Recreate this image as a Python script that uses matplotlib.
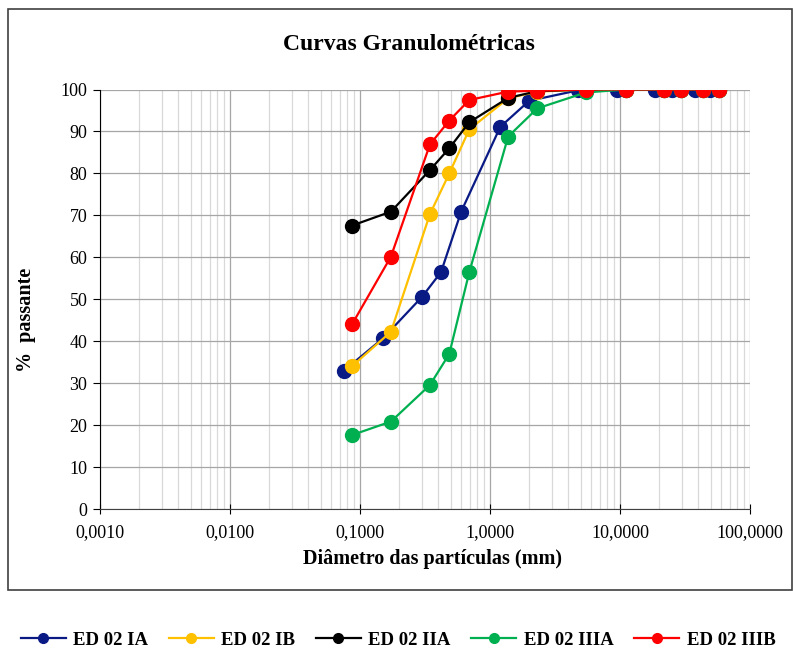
import matplotlib
matplotlib.use('Agg')
import matplotlib.pyplot as plt
from matplotlib.patches import Rectangle
from matplotlib.ticker import FixedLocator, FuncFormatter, NullFormatter
import numpy as np

plt.rcParams['font.family'] = 'Liberation Serif'

# sieve openings (mm)
d_ia = [0.075, 0.15, 0.30, 0.42, 0.60, 1.20, 2.00, 4.75, 9.5, 18.6, 25.1, 37.8, 49.3]
d_other = [0.087, 0.173, 0.345, 0.486, 0.693, 1.38, 2.31, 5.47, 11.1, 21.8, 29.3, 43.7, 58.1]

ed_02_ia = [33.0, 40.7, 50.6, 56.5, 70.9, 91.1, 97.3, 99.8, 100, 100, 100, 100, 100]
ed_02_ib = [34.1, 42.3, 70.3, 80.0, 90.5, 97.9, 99.5, 100, 100, 100, 100, 100, 100]
ed_02_iia = [67.6, 70.9, 80.8, 86.0, 92.2, 98.0, 99.6, 100, 100, 100, 100, 100, 100]
ed_02_iiia = [17.7, 20.9, 29.6, 37.0, 56.5, 88.8, 95.5, 99.3, 100, 100, 100, 100, 100]
ed_02_iiib = [44.1, 60.2, 86.9, 92.6, 97.5, 99.5, 99.7, 100, 100, 100, 100, 100, 100]

series = [
    ('ED 02 IA', d_ia, ed_02_ia, '#0a1a85'),
    ('ED 02 IB', d_other, ed_02_ib, '#ffc000'),
    ('ED 02 IIA', d_other, ed_02_iia, '#000000'),
    ('ED 02 IIIA', d_other, ed_02_iiia, '#00b050'),
    ('ED 02 IIIB', d_other, ed_02_iiib, '#ff0000'),
]

fig = plt.figure(figsize=(7.93, 6.49), dpi=100)
ax = fig.add_axes([100 / 793, 1 - 509.3 / 649, 650 / 793, 419.8 / 649])

# outer frame of the chart area
fig.patches.append(Rectangle((8 / 793, 1 - 590 / 649), 784 / 793, 581 / 649,
                             transform=fig.transFigure, fill=False,
                             edgecolor='#404040', linewidth=1.2))

for name, d, p, c in series:
    ax.plot(d, p, '-o', color=c, label=name, linewidth=1.6, markersize=10,
            markeredgecolor=c, zorder=3)

ax.set_xscale('log')
ax.set_xlim(0.001, 100)
ax.set_ylim(0, 100)

ax.xaxis.set_major_locator(FixedLocator([0.001, 0.01, 0.1, 1, 10, 100]))
ax.xaxis.set_major_formatter(FuncFormatter(lambda v, pos: ('%.4f' % v).replace('.', ',')))
minors = [k * 10.0 ** e for e in range(-3, 2) for k in range(2, 10)]
ax.xaxis.set_minor_locator(FixedLocator(minors))
ax.xaxis.set_minor_formatter(NullFormatter())
ax.set_yticks(np.arange(0, 101, 10))

ax.grid(which='major', axis='x', color='#a6a6a6', linewidth=0.9)
ax.grid(which='minor', axis='x', color='#d9d9d9', linewidth=0.9)
ax.grid(which='major', axis='y', color='#a6a6a6', linewidth=0.9)
ax.set_axisbelow(True)

for s in ['top', 'right']:
    ax.spines[s].set_visible(False)
ax.spines['left'].set_color('black')
ax.spines['bottom'].set_color('#404040')
ax.tick_params(axis='x', which='major', direction='inout', length=7, labelsize=13, pad=7)
ax.tick_params(axis='x', which='minor', length=0)
ax.tick_params(axis='y', direction='out', length=5, labelsize=13, pad=4)

fig.text(409 / 793, 1 - 45 / 649, 'Curvas Granulométricas', ha='center', va='center',
         fontsize=17, fontweight='bold')
fig.text(432 / 793, 1 - 559 / 649, 'Diâmetro das partículas (mm)', ha='center', va='center',
         fontsize=14.5, fontweight='bold')
fig.text(26 / 793, 1 - 320 / 649, '%  passante', ha='center', va='center', rotation=90,
         fontsize=14.5, fontweight='bold')

fig.legend(loc='center', bbox_to_anchor=(398 / 793, 1 - 640 / 649), ncol=5,
           frameon=False, prop={'weight': 'bold', 'size': 13.5}, handlelength=2.4,
           columnspacing=1.1, handletextpad=0.4, markerscale=0.7, borderpad=0.1,
           borderaxespad=0)

fig.savefig('out.png', dpi=100)
